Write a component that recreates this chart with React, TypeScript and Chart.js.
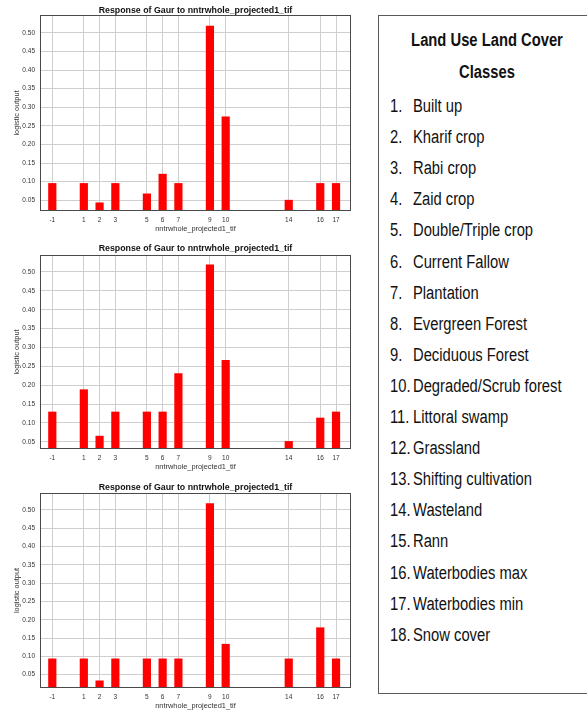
import React, { useEffect, useRef } from "react";
import { Chart, registerables } from "chart.js";

Chart.register(...registerables);

// Land use / land cover class codes present on the x axis
const landCoverCodes = [-1, 1, 2, 3, 5, 6, 7, 9, 10, 14, 16, 17];

// Logistic output of the three response curves (top, middle, bottom panel)
const responseTop = [0.096, 0.096, 0.044, 0.096, 0.068, 0.121, 0.096, 0.519, 0.275, 0.051, 0.096, 0.096];
const responseMiddle = [0.13, 0.189, 0.066, 0.13, 0.13, 0.13, 0.232, 0.52, 0.267, 0.052, 0.114, 0.13];
const responseBottom = [0.094, 0.094, 0.034, 0.094, 0.094, 0.094, 0.094, 0.518, 0.134, 0.094, 0.179, 0.094];

// Y axis tick values
const yTickValues = [0.05, 0.1, 0.15, 0.2, 0.25, 0.3, 0.35, 0.4, 0.45, 0.5];

const chartTitle = "Response of Gaur to nntrwhole_projected1_tif";
const xAxisTitle = "nntrwhole_projected1_tif";
const yAxisTitle = "logistic output";

const legendHeading = ["Land Use Land Cover", "Classes"];
const classNames = [
  "Built up",
  "Kharif crop",
  "Rabi crop",
  "Zaid crop",
  "Double/Triple crop",
  "Current Fallow",
  "Plantation",
  "Evergreen Forest",
  "Deciduous Forest",
  "Degraded/Scrub forest",
  "Littoral swamp",
  "Grassland",
  "Shifting cultivation",
  "Wasteland",
  "Rann",
  "Waterbodies max",
  "Waterbodies min",
  "Snow cover",
];

const FONT = '"Liberation Sans", Arial, sans-serif';

// Draws the closed frame around the plot area and the bold title above it
const plotFramePlugin = {
  id: "plotFrame",
  afterDraw(chart: any, _args: any, opts: any) {
    const { ctx, chartArea: a } = chart;
    ctx.save();
    ctx.strokeStyle = "#4a4a4a";
    ctx.lineWidth = 1;
    const l = Math.round(a.left) + 0.5;
    const t = Math.round(a.top) + 0.5;
    const r = Math.round(a.right) - 0.5;
    const b = Math.round(a.bottom) - 0.5;
    ctx.strokeRect(l, t, r - l, b - t);
    ctx.fillStyle = "#111";
    ctx.font = `bold 8.8px ${FONT}`;
    ctx.textAlign = "center";
    ctx.textBaseline = "middle";
    ctx.fillText(opts.text, (a.left + a.right) / 2, a.top - opts.gap);
    ctx.restore();
  },
};

type PanelProps = {
  values: number[];
  yMin: number;
  yMax: number;
  top: number;
  height: number;
  padTop: number;
  xAxisHeight: number;
  titleGap: number;
  xTitlePad: number;
};

function ResponsePanel(p: PanelProps) {
  const ref = useRef<HTMLCanvasElement | null>(null);

  useEffect(() => {
    if (!ref.current) return;
    const tickFont = { family: FONT, size: 6.5 };
    const titleFont = { family: FONT, size: 7.4 };
    const chart = new Chart(ref.current, {
      type: "bar",
      data: {
        datasets: [
          {
            data: landCoverCodes.map((c, i) => ({ x: c, y: p.values[i] })),
            backgroundColor: "#ff0000",
            borderWidth: 0,
            barPercentage: 0.52,
            categoryPercentage: 1,
          },
        ],
      },
      options: {
        animation: false,
        responsive: false,
        events: [],
        layout: { padding: { top: p.padTop, right: 9, left: 0, bottom: 0 } },
        plugins: {
          legend: { display: false },
          tooltip: { enabled: false },
          plotFrame: { text: chartTitle, gap: p.titleGap },
        } as any,
        scales: {
          x: {
            type: "linear",
            min: -1.78,
            max: 17.95,
            offset: false,
            afterBuildTicks: (s: any) => {
              s.ticks = landCoverCodes.map((v) => ({ value: v }));
            },
            afterFit: (s: any) => {
              s.height = p.xAxisHeight;
            },
            ticks: {
              autoSkip: false,
              maxRotation: 0,
              padding: 5,
              color: "#333",
              font: tickFont,
              callback: (v: any) => String(v),
            },
            grid: { color: "#cfcfcf", drawTicks: false, offset: false },
            border: { display: false },
            title: {
              display: true,
              text: xAxisTitle,
              color: "#333",
              font: titleFont,
              padding: { top: 0, bottom: p.xTitlePad },
            },
          },
          y: {
            min: p.yMin,
            max: p.yMax,
            afterBuildTicks: (s: any) => {
              s.ticks = yTickValues.map((v) => ({ value: v }));
            },
            afterFit: (s: any) => {
              s.width = 40;
            },
            ticks: {
              padding: 5,
              color: "#333",
              font: tickFont,
              callback: (v: any) => Number(v).toFixed(2),
            },
            grid: { color: "#cfcfcf", drawTicks: false },
            border: { display: false },
            title: {
              display: true,
              text: yAxisTitle,
              color: "#333",
              font: titleFont,
              padding: { top: 12.9, bottom: 0 },
            },
          },
        },
      } as any,
      plugins: [plotFramePlugin],
    });
    return () => chart.destroy();
  }, []);

  return (
    <canvas
      ref={ref}
      width={360}
      height={p.height}
      style={{ position: "absolute", left: 0, top: p.top, display: "block" }}
    />
  );
}

function LegendBox() {
  const textStyle: React.CSSProperties = {
    position: "absolute",
    fontFamily: FONT,
    fontSize: 18,
    lineHeight: "20px",
    color: "#111",
    whiteSpace: "nowrap",
    transform: "scaleX(0.82)",
  };
  return (
    <div
      style={{
        position: "absolute",
        left: 378,
        top: 15,
        width: 216,
        height: 679,
        border: "1px solid #5a5a5a",
        boxSizing: "border-box",
        background: "#fff",
      }}
    >
      {legendHeading.map((h, i) => (
        <div
          key={h}
          style={{
            ...textStyle,
            left: 0,
            width: 216,
            textAlign: "center",
            fontWeight: "bold",
            top: 39 + i * 32 - 10 - 15,
            transformOrigin: "center",
          }}
        >
          {h}
        </div>
      ))}
      {classNames.map((name, i) => {
        const top = 105 + i * 31.1 - 10 - 15;
        return (
          <React.Fragment key={name}>
            <div style={{ ...textStyle, left: 11, top, transformOrigin: "left" }}>{`${i + 1}.`}</div>
            <div style={{ ...textStyle, left: 34, top, transformOrigin: "left" }}>{name}</div>
          </React.Fragment>
        );
      })}
    </div>
  );
}

export default function App() {
  return (
    <div
      style={{
        position: "absolute",
        left: 0,
        top: 0,
        width: 587,
        height: 715,
        overflow: "hidden",
        background: "#fff",
      }}
    >
      <ResponsePanel values={responseTop} yMin={0.021} yMax={0.548} top={0} height={235} padTop={15} xAxisHeight={24} titleGap={4} xTitlePad={1.3} />
      <ResponsePanel values={responseMiddle} yMin={0.031} yMax={0.545} top={235} height={240} padTop={20} xAxisHeight={26} titleGap={6.5} xTitlePad={3.3} />
      <ResponsePanel values={responseBottom} yMin={0.0135} yMax={0.546} top={475} height={240} padTop={18} xAxisHeight={27} titleGap={5} xTitlePad={4.9} />
      <LegendBox />
    </div>
  );
}
